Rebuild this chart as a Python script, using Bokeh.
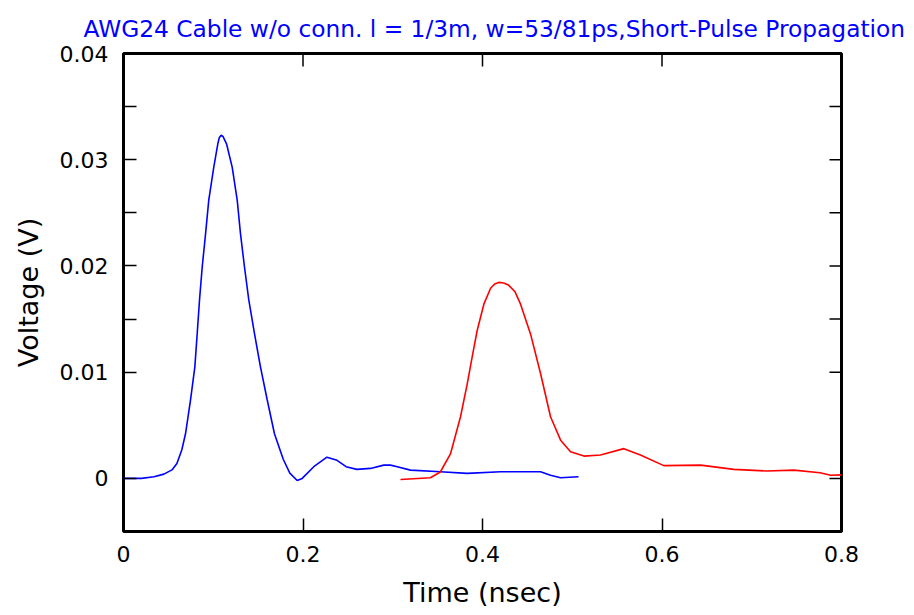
import math

from bokeh.plotting import figure
from bokeh.models import Range1d, FixedTicker, CustomJSTickFormatter
from bokeh.embed import file_html
from bokeh.resources import INLINE

# Pulse at the near end of the cable (blue)
near_t = [0.0, 0.02, 0.034, 0.045, 0.054, 0.0595, 0.065, 0.0691, 0.0747, 0.0795, 0.0821,
          0.0847, 0.0877, 0.0914, 0.095, 0.1006, 0.1051, 0.1068, 0.1088, 0.1108, 0.1148,
          0.1211, 0.1267, 0.1304, 0.1348, 0.1396, 0.146, 0.1526, 0.1601, 0.1682, 0.178,
          0.1853, 0.1935, 0.1991, 0.212, 0.2267, 0.2379, 0.248, 0.260, 0.2752, 0.290,
          0.2975, 0.305, 0.3198, 0.353, 0.383, 0.420, 0.4646, 0.4758, 0.487, 0.507]
near_v = [0.0, 0.0, 0.00015, 0.0004, 0.0008, 0.0014, 0.0027, 0.0042, 0.0074, 0.0105, 0.0136,
          0.0168, 0.0199, 0.0230, 0.0262, 0.0293, 0.0315, 0.0321, 0.0323, 0.0322, 0.0315,
          0.0293, 0.0262, 0.0230, 0.0199, 0.0168, 0.0136, 0.0105, 0.0074, 0.0042, 0.0018,
          0.0005, -0.0002, 0.0, 0.0011, 0.0020, 0.0017, 0.0011, 0.00085, 0.00094, 0.00125,
          0.00125, 0.0011, 0.00078, 0.00062, 0.00047, 0.00062, 0.00062, 0.0003, 0.00006,
          0.00015]

# Pulse after propagating along the cable (red)
far_t = [0.3086, 0.342, 0.353, 0.3643, 0.3755, 0.383, 0.3884, 0.394, 0.4015, 0.409, 0.4135,
         0.418, 0.4235, 0.429, 0.436, 0.4424, 0.4535, 0.4646, 0.4758, 0.487, 0.4981, 0.513,
         0.5315, 0.5575, 0.576, 0.602, 0.643, 0.680, 0.717, 0.747, 0.776, 0.788, 0.806]
far_v = [-0.0001, 0.00006, 0.0006, 0.0023, 0.0058, 0.0089, 0.0114, 0.0139, 0.0164, 0.0179,
         0.0183, 0.01845, 0.0184, 0.0182, 0.0176, 0.0164, 0.0136, 0.0099, 0.0058, 0.0036,
         0.0025, 0.0021, 0.0022, 0.0028, 0.0022, 0.0012, 0.00125, 0.00085, 0.00069,
         0.00078, 0.00053, 0.0003, 0.00034]

# Axis ticks
x_ticks = [0.0, 0.2, 0.4, 0.6, 0.8]
y_ticks = [0.0, 0.01, 0.02, 0.03, 0.04]
y_minor = [0.015, 0.025, 0.035]

X_MIN, X_MAX = 0.0, 0.8
Y_MIN, Y_MAX = -0.005, 0.04

title_text = "AWG24 Cable w/o conn. l = 1/3m, w=53/81ps,Short-Pulse Propagation"

FONT = "DejaVu Sans"
TICK_LEN = 13

p = figure(width=914, height=615, output_backend="svg", toolbar_location=None,
           x_range=Range1d(X_MIN, X_MAX), y_range=Range1d(Y_MIN, Y_MAX),
           title=title_text, x_axis_label="Time (nsec)", y_axis_label="Voltage (V)",
           min_border_left=123, min_border_right=73, min_border_top=53, min_border_bottom=84)

p.background_fill_color = "white"
p.border_fill_color = "white"
p.outline_line_color = "black"
p.outline_line_width = 3
p.xgrid.visible = False
p.ygrid.visible = False

p.title.text_font = FONT
p.title.text_font_size = "23.3px"
p.title.text_font_style = "normal"
p.title.text_color = "#0000ff"
p.title.align = "left"
p.title.offset = -40
p.title.standoff = 24

x_fmt = CustomJSTickFormatter(code="return Math.abs(tick) < 1e-9 ? '0' : tick.toFixed(1);")
y_fmt = CustomJSTickFormatter(code="return Math.abs(tick) < 1e-9 ? '0' : tick.toFixed(2);")


def style_axis(ax, ticker, fmt):
    ax.ticker = ticker
    ax.formatter = fmt
    ax.axis_line_color = None
    ax.major_tick_in = TICK_LEN
    ax.major_tick_out = 0
    ax.minor_tick_in = TICK_LEN
    ax.minor_tick_out = 0
    ax.major_tick_line_color = "black"
    ax.minor_tick_line_color = "black"
    ax.major_tick_line_width = 1.5
    ax.minor_tick_line_width = 1.5
    ax.major_label_text_font = FONT
    ax.major_label_text_font_size = "22px"
    ax.major_label_text_color = "black"
    ax.axis_label_text_font = FONT
    ax.axis_label_text_font_size = "27px"
    ax.axis_label_text_font_style = "normal"
    ax.axis_label_text_color = "black"


xa = p.xaxis[0]
style_axis(xa, FixedTicker(ticks=x_ticks), x_fmt)
xa.major_label_standoff = 14
xa.axis_label_standoff = 12

ya = p.yaxis[0]
style_axis(ya, FixedTicker(ticks=y_ticks, minor_ticks=y_minor), y_fmt)
ya.major_label_standoff = 15
ya.axis_label_standoff = 13

# inward tick marks along the top and right edges of the frame
top_x = [t for t in x_ticks if X_MIN < t < X_MAX]
p.ray(x=top_x, y=[Y_MAX] * len(top_x), length=TICK_LEN, length_units="screen",
      angle=-math.pi / 2, line_color="black", line_width=1.5)

right_y = [t for t in y_ticks + y_minor if Y_MIN < t < Y_MAX]
p.ray(x=[X_MAX] * len(right_y), y=right_y, length=TICK_LEN - 1, length_units="screen",
      angle=math.pi, line_color="black", line_width=1.5)

p.line(near_t, near_v, line_color="#0000ff", line_width=1.6)
p.line(far_t, far_v, line_color="#ff0000", line_width=1.6)

open("out.html", "w").write(file_html(p, INLINE))
